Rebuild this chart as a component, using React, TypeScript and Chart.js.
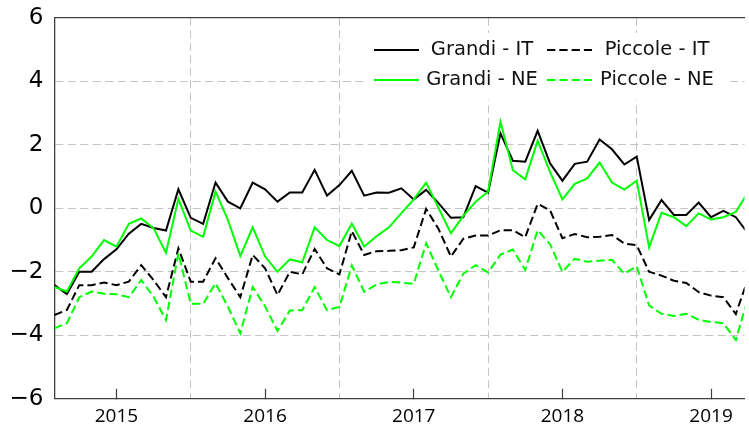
import React, { useEffect, useRef } from 'react';
import { Chart, registerables } from 'chart.js';

Chart.register(...registerables);

// First observation: August 2014, monthly
const START_YEAR = 2014;
const START_MONTH = 8;

const grandiIT = [-2.42, -2.7, -2.0, -2.0, -1.6, -1.29, -0.8, -0.49, -0.62, -0.7, 0.6, -0.3, -0.49, 0.81, 0.21, 0.0, 0.81, 0.6, 0.21, 0.5, 0.5, 1.21, 0.4, 0.73, 1.18, 0.4, 0.5, 0.49, 0.63, 0.28, 0.58, 0.16, -0.3, -0.28, 0.7, 0.49, 2.36, 1.5, 1.47, 2.44, 1.42, 0.87, 1.4, 1.47, 2.17, 1.86, 1.38, 1.63, -0.37, 0.26, -0.21, -0.21, 0.18, -0.28, -0.08, -0.28, -0.8];
const piccoleIT = [-3.36, -3.2, -2.42, -2.42, -2.34, -2.42, -2.31, -1.79, -2.26, -2.8, -1.26, -2.31, -2.31, -1.57, -2.2, -2.8, -1.47, -1.89, -2.73, -2.0, -2.08, -1.28, -1.89, -2.08, -0.72, -1.47, -1.35, -1.34, -1.32, -1.23, -0.02, -0.65, -1.52, -0.96, -0.86, -0.86, -0.69, -0.69, -0.91, 0.14, -0.06, -0.94, -0.81, -0.91, -0.9, -0.84, -1.11, -1.16, -2.0, -2.12, -2.28, -2.35, -2.64, -2.75, -2.8, -3.33, -2.2];
const grandiNE = [-2.48, -2.62, -1.89, -1.52, -1.0, -1.21, -0.49, -0.32, -0.63, -1.4, 0.3, -0.7, -0.9, 0.53, -0.37, -1.5, -0.6, -1.52, -2.0, -1.61, -1.7, -0.6, -1.0, -1.19, -0.48, -1.2, -0.88, -0.6, -0.15, 0.28, 0.81, 0.01, -0.79, -0.24, 0.21, 0.52, 2.73, 1.2, 0.91, 2.13, 1.15, 0.28, 0.77, 0.94, 1.44, 0.81, 0.59, 0.87, -1.23, -0.14, -0.28, -0.56, -0.16, -0.35, -0.28, -0.11, 0.5];
const piccoleNE = [-3.78, -3.62, -2.8, -2.62, -2.69, -2.71, -2.8, -2.26, -2.79, -3.52, -1.42, -3.01, -3.01, -2.36, -3.1, -3.94, -2.48, -3.09, -3.86, -3.22, -3.21, -2.48, -3.21, -3.11, -1.8, -2.63, -2.4, -2.32, -2.34, -2.38, -1.1, -1.97, -2.8, -2.06, -1.79, -2.02, -1.46, -1.3, -1.94, -0.69, -1.13, -2.0, -1.59, -1.68, -1.65, -1.62, -2.06, -1.83, -3.06, -3.32, -3.39, -3.32, -3.51, -3.58, -3.62, -4.15, -2.8];

const seriesLabels = ['Grandi - IT', 'Piccole - IT', 'Grandi - NE', 'Piccole - NE'];
const yTickValues = [-6, -4, -2, 0, 2, 4, 6];
const xYearTicks = [2015, 2016, 2017, 2018, 2019];
const xGridHalfYears = [2015.5, 2016.5, 2017.5, 2018.5];

const X_MIN = START_YEAR + (START_MONTH - 1) / 12;
const X_MAX = 2019.2254;

const monthPos = grandiIT.map((_, i) => START_YEAR + (START_MONTH - 1 + i) / 12);
const toPoints = (vals: number[]) => vals.map((v, i) => ({ x: monthPos[i], y: v }));

const BLACK = '#000000';
const GREEN = '#00ff00';
const DASH = [8.3, 4];
const GRID = '#c4c4c4';
const AXIS = '#404040';
const TRANSPARENT = 'rgba(0,0,0,0)';

const legendPlugin = {
  id: 'pgfLegend',
  afterDraw(chart: any) {
    const ctx = chart.ctx;
    const cells = [
      { ds: 0, lx: 374, tx: 482, y: 50 },
      { ds: 1, lx: 547, tx: 657, y: 50 },
      { ds: 2, lx: 374, tx: 482, y: 80 },
      { ds: 3, lx: 547, tx: 657, y: 80 },
    ];
    ctx.save();
    ctx.fillStyle = '#ffffff';
    ctx.fillRect(366, 33, 363, 67);
    cells.forEach((c) => {
      const ds = chart.data.datasets[c.ds];
      ctx.beginPath();
      ctx.setLineDash(ds.borderDash || []);
      ctx.strokeStyle = ds.borderColor;
      ctx.lineWidth = ds.borderWidth;
      ctx.moveTo(c.lx, c.y);
      ctx.lineTo(c.lx + 45, c.y);
      ctx.stroke();
      ctx.setLineDash([]);
      ctx.fillStyle = '#111';
      ctx.font = '19.5px "DejaVu Sans"';
      ctx.textAlign = 'center';
      ctx.textBaseline = 'middle';
      ctx.fillText(ds.label, c.tx, c.y);
    });
    ctx.restore();
  },
};

export default function App() {
  const ref = useRef<HTMLCanvasElement | null>(null);

  useEffect(() => {
    if (!ref.current) return;
    const mk = (i: number, vals: number[], color: string, dash: number[], order: number) => ({
      label: seriesLabels[i],
      data: toPoints(vals),
      borderColor: color,
      backgroundColor: color,
      borderWidth: 2,
      borderDash: dash,
      pointRadius: 0,
      tension: 0,
      fill: false,
      order,
    });
    const chart = new Chart(ref.current, {
      type: 'line',
      data: {
        datasets: [
          mk(0, grandiIT, BLACK, [], 3),
          mk(1, piccoleIT, BLACK, DASH, 2),
          mk(2, grandiNE, GREEN, [], 1),
          mk(3, piccoleNE, GREEN, DASH, 0),
        ],
      },
      options: {
        animation: false,
        responsive: false,
        layout: { padding: { top: 17.8, left: 0, right: 0, bottom: 0 } },
        plugins: { legend: { display: false }, tooltip: { enabled: false } },
        scales: {
          x: {
            type: 'linear',
            position: 'bottom',
            min: X_MIN,
            max: X_MAX,
            afterBuildTicks: (axis: any) => {
              axis.ticks = [...xYearTicks, ...xGridHalfYears]
                .sort((a, b) => a - b)
                .map((v) => ({ value: v }));
            },
            afterFit: (axis: any) => {
              axis.height = 26.2;
            },
            ticks: {
              autoSkip: false,
              maxRotation: 0,
              padding: 16,
              color: '#000',
              font: { family: '"Open Sans"', size: 19 },
              callback: (v: any) => (Number.isInteger(v) ? String(v) : ''),
            },
            grid: {
              color: (c: any) => (c.tick && !Number.isInteger(c.tick.value) ? GRID : TRANSPARENT),
              tickColor: (c: any) => (c.tick && Number.isInteger(c.tick.value) ? AXIS : TRANSPARENT),
              tickLength: -10,
              tickWidth: 1.2,
              lineWidth: 1,
            },
            border: { display: true, color: AXIS, width: 1.3, dash: [8, 4.5] },
          },
          x2: {
            type: 'linear',
            position: 'top',
            min: 0,
            max: 1,
            ticks: { display: false },
            grid: { display: false, drawTicks: false },
            border: { display: true, color: AXIS, width: 1.3 },
            afterFit: (axis: any) => {
              axis.height = 0;
            },
          },
          y: {
            type: 'linear',
            min: -6,
            max: 6,
            afterBuildTicks: (axis: any) => {
              axis.ticks = yTickValues.map((v) => ({ value: v }));
            },
            afterFit: (axis: any) => {
              axis.width = 54.5;
            },
            ticks: {
              padding: 0,
              color: '#000',
              font: { family: '"DejaVu Sans"', size: 23 },
              callback: (v: any) => (v < 0 ? '\u2212' + Math.abs(v) : String(v)),
            },
            grid: {
              color: (c: any) => (c.tick && Math.abs(c.tick.value) === 6 ? TRANSPARENT : GRID),
              tickColor: TRANSPARENT,
              drawTicks: true,
              tickLength: 11,
              lineWidth: 1,
            },
            border: { display: true, color: AXIS, width: 1.3, dash: [8, 4.5] },
          },
        },
      } as any,
      plugins: [legendPlugin],
    });
    return () => chart.destroy();
  }, []);

  return (
    <div style={{ position: 'absolute', left: 0, top: 0, width: 749, height: 425, background: '#fff' }}>
      <canvas ref={ref} width={749} height={425} style={{ display: 'block' }} />
    </div>
  );
}
